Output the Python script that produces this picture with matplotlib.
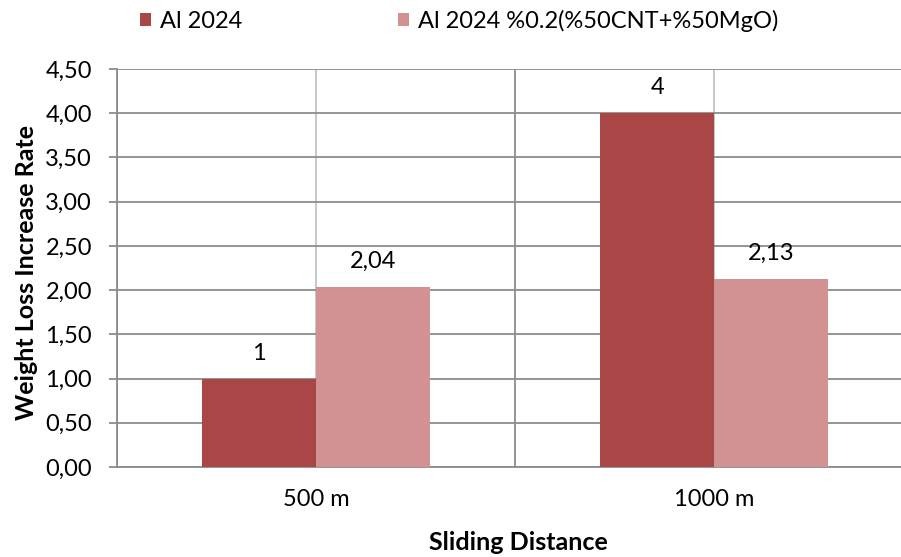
import numpy as np
import matplotlib.pyplot as plt

plt.rcParams['font.family'] = ['Lato', 'DejaVu Sans']

categories = ['500 m', '1000 m']
series_names = ['Al 2024', 'Al 2024 %0.2(%50CNT+%50MgO)']
al2024 = [1, 4]
al2024_comp = [2.04, 2.13]
label_text_1 = ['1', '4']
label_text_2 = ['2,04', '2,13']
colors = ['#A84746', '#D39292']

W, H = 901, 557
fig = plt.figure(figsize=(W / 100, H / 100), dpi=100)
ax = fig.add_axes([117 / W, (H - 467) / H, (901 - 117) / W, 398 / H])

x = np.arange(len(categories))
bw = 0.286
b1 = ax.bar(x - bw / 2, al2024, bw, color=colors[0], label=series_names[0], zorder=3)
b2 = ax.bar(x + bw / 2, al2024_comp, bw, color=colors[1], label=series_names[1], zorder=3)

for rect, t in zip(b1, label_text_1):
    ax.text(rect.get_x() + rect.get_width() / 2, rect.get_height() + 0.17, t,
            ha='center', va='bottom', fontsize=17, zorder=4)
for rect, t in zip(b2, label_text_2):
    ax.text(rect.get_x() + rect.get_width() / 2, rect.get_height() + 0.17, t,
            ha='center', va='bottom', fontsize=17, zorder=4)

ax.set_xlim(-0.5, -0.5 + 784 / 398)
ax.set_ylim(0, 4.5)
ax.set_yticks(np.arange(0, 4.51, 0.5))
ax.set_yticklabels([f'{v:.2f}'.replace('.', ',') for v in np.arange(0, 4.51, 0.5)], fontsize=17)
ax.set_xticks(x)
ax.set_xticklabels(categories, fontsize=17)
ax.tick_params(axis='x', length=0, pad=16)
ax.tick_params(axis='y', length=6, width=1.3, color='#8c8c8c', pad=12)

# gridlines
ax.grid(axis='y', color='#8c8c8c', lw=1.3, zorder=0)
for xb in [-0.5, 0.5, 1.5]:
    ax.axvline(xb, color='#8c8c8c', lw=1.3, zorder=1)
for xc in x:
    ax.axvline(xc, color='#c4c4c4', lw=1.3, zorder=1)

for s in ['top', 'right']:
    ax.spines[s].set_visible(False)
ax.spines['left'].set_color('#8c8c8c')
ax.spines['bottom'].set_color('#8c8c8c')
ax.spines['left'].set_linewidth(1.3)
ax.spines['bottom'].set_linewidth(1.3)

fig.text(27 / W, 1 - 273 / H, 'Weight Loss Increase Rate', fontsize=18, fontweight='bold',
         ha='center', va='center', rotation=90)
fig.text(518 / W, 1 - 543 / H, 'Sliding Distance', fontsize=18, fontweight='bold',
         ha='center', va='center')

fig.legend(loc='center left', bbox_to_anchor=(140 / W, 1 - 21 / H), ncol=2, frameon=False,
           fontsize=17, handlelength=0.45, handleheight=0.45, handletextpad=0.4,
           columnspacing=6.6, borderaxespad=0, borderpad=0)

fig.savefig('out.png', dpi=100)
